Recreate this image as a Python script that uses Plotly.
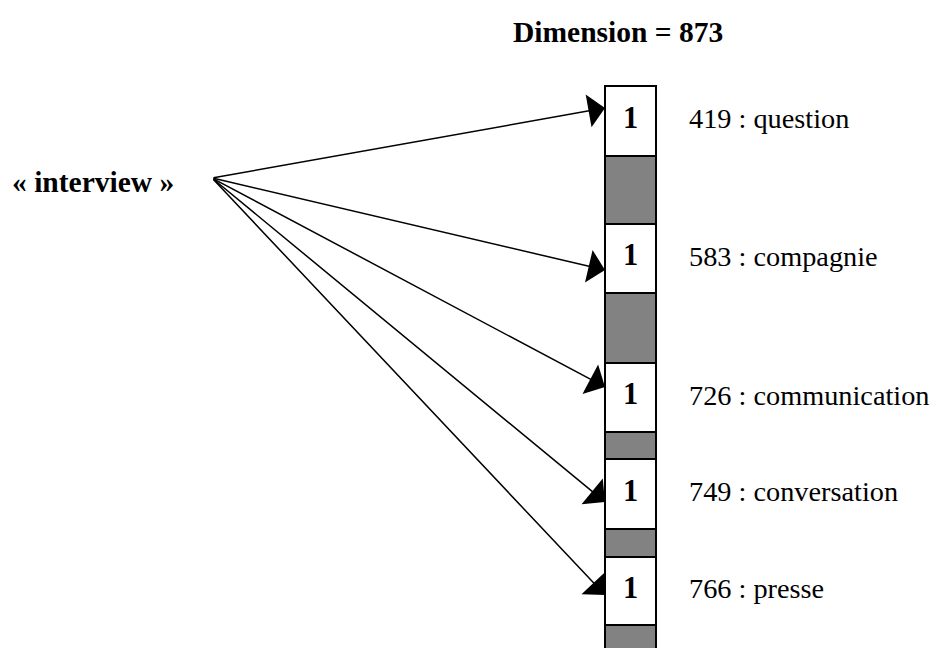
import plotly.graph_objects as go

# ---- data ----
dimension = 873
word = "« interview »"
indices = [419, 583, 726, 749, 766]
neighbours = ["question", "compagnie", "communication", "conversation", "presse"]
values = [1, 1, 1, 1, 1]

# schematic column: alternating cells (value cell / zero run), heights in px
cell_heights = [70, 69, 69, 70, 68]
gap_heights = [68, 70, 27, 28, 40]

# ---- layout constants ----
W, H = 939, 648
OFF = 8  # browser body margin compensation
col_x0, col_x1 = 605, 656
col_top = 86
src = (212, 178)
arrow_tip_off = [22, 46, 24, 43, 38]  # arrow tip offset from cell top
FONT = "Liberation Serif"
FS = 29.5

fig = go.Figure()

cell_base, gap_base = [], []
y = col_top
for ch, gh in zip(cell_heights, gap_heights):
    cell_base.append(y)
    y += ch
    gap_base.append(y)
    y += gh

xc = (col_x0 + col_x1) / 2
bw = col_x1 - col_x0

fig.add_trace(go.Bar(
    x=[xc] * len(gap_heights), y=gap_heights, base=gap_base, width=bw,
    marker=dict(color="white",
                pattern=dict(shape=".", fgcolor="#000000", bgcolor="#ffffff",
                             size=2, solidity=0.9),
                line=dict(color="black", width=2)),
    hoverinfo="skip", showlegend=False))
fig.add_trace(go.Bar(
    x=[xc] * len(cell_heights), y=cell_heights, base=cell_base, width=bw,
    marker=dict(color="white", line=dict(color="black", width=2)),
    hoverinfo="skip", showlegend=False))

centers = [b + h / 2 for b, h in zip(cell_base, cell_heights)]

fig.add_trace(go.Scatter(
    x=[xc] * len(values), y=[c - 1 for c in centers], mode="text",
    text=[f"<b>{v}</b>" for v in values],
    textfont=dict(family=FONT, size=FS + 1, color="black"),
    hoverinfo="skip", showlegend=False))

fig.add_trace(go.Scatter(
    x=[689] * len(indices), y=centers, mode="text",
    text=[f"{i} : {w}" for i, w in zip(indices, neighbours)],
    textposition="middle right", cliponaxis=False,
    textfont=dict(family=FONT, size=28.3, color="black"),
    hoverinfo="skip", showlegend=False))

for b, off in zip(cell_base, arrow_tip_off):
    fig.add_annotation(x=col_x0, y=b + off, ax=src[0], ay=src[1],
                       xref="x", yref="y", axref="x", ayref="y",
                       text="", showarrow=True, arrowhead=1, arrowsize=3.7,
                       arrowwidth=1.5, arrowcolor="black", standoff=0)

fig.add_annotation(x=618, y=32, xref="x", yref="y", text=f"<b>Dimension = {dimension}</b>",
                   showarrow=False, font=dict(family=FONT, size=FS, color="black"))
fig.add_annotation(x=10, y=182, xref="x", yref="y", text=f"<b>{word}</b>",
                   xanchor="left", showarrow=False,
                   font=dict(family=FONT, size=FS, color="black"))

fig.update_layout(
    width=W - OFF, height=H - OFF, margin=dict(l=0, r=0, t=0, b=0),
    paper_bgcolor="white", plot_bgcolor="white", barmode="overlay",
    xaxis=dict(range=[OFF, W], visible=False, fixedrange=True),
    yaxis=dict(range=[H, OFF], visible=False, fixedrange=True),
)

fig.write_html("out.html")
